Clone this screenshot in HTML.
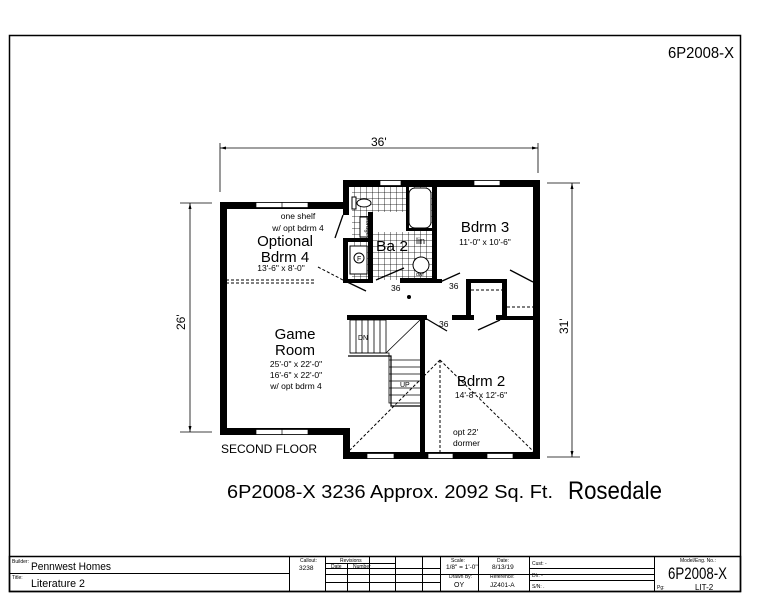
<!DOCTYPE html>
<html><head><meta charset="utf-8"><style>
html,body{margin:0;padding:0;background:#fff;width:777px;height:600px;overflow:hidden}
svg{display:block}
text{font-family:"Liberation Sans",sans-serif;fill:#000}
</style></head><body>
<svg width="777" height="600" viewBox="0 0 777 600" xmlns="http://www.w3.org/2000/svg">
<defs>
<pattern id="tile" width="6" height="6" patternUnits="userSpaceOnUse">
<path d="M0 0H6M0 0V6" stroke="#000" stroke-width="0.8" fill="none"/>
</pattern>
</defs>
<rect x="9.5" y="35.5" width="731" height="556" fill="none" stroke="#000" stroke-width="1.5"/>
<text x="668" y="58" font-size="16" textLength="66" lengthAdjust="spacingAndGlyphs">6P2008-X</text>

<g stroke="#000" stroke-width="0.8" fill="none">
<line x1="220" y1="148" x2="538" y2="148"/>
<line x1="220" y1="143" x2="220" y2="192"/>
<line x1="538" y1="143" x2="538" y2="173"/>
<line x1="190" y1="203" x2="190" y2="432"/>
<line x1="180" y1="203" x2="212" y2="203"/>
<line x1="180" y1="432" x2="212" y2="432"/>
<line x1="572" y1="183" x2="572" y2="457"/>
<line x1="547" y1="183" x2="580" y2="183"/>
<line x1="547" y1="457" x2="580" y2="457"/>
</g>
<path d="M220 148 l6 -1.5 v3z M538 148 l-6 -1.5 v3z M190 203 l-1.5 6 h3z M190 432 l-1.5 -6 h3z M572 183 l-1.5 6 h3z M572 457 l-1.5 -6 h3z" fill="#000"/>
<text x="371" y="146" font-size="12">36'</text>
<text x="0" y="0" font-size="12" transform="translate(185,330) rotate(-90)">26'</text>
<text x="0" y="0" font-size="12" transform="translate(568,334) rotate(-90)">31'</text>

<rect x="352" y="186" width="81" height="94" fill="url(#tile)"/>
<rect x="373" y="212" width="40" height="20" fill="#fff"/>
<g fill="#000">
<rect x="220" y="202" width="127" height="7"/>
<rect x="343" y="180" width="197" height="7"/>
<rect x="220" y="202" width="7" height="232"/>
<rect x="533" y="180" width="7" height="279"/>
<rect x="220" y="428" width="130" height="7"/>
<rect x="343" y="428" width="7" height="31"/>
<rect x="343" y="452" width="197" height="7"/>
<rect x="343" y="180" width="6" height="35"/>
<rect x="343" y="238" width="5" height="45"/>
<rect x="343" y="238" width="30" height="4"/>
<rect x="368" y="212" width="5" height="70"/>
<rect x="343" y="279" width="30" height="4"/>
<rect x="400" y="278" width="37" height="5"/>
<rect x="432" y="180" width="5" height="103"/>
<rect x="406" y="228" width="27" height="3"/>
<rect x="406" y="186" width="3" height="45"/>
<rect x="437" y="279" width="5" height="4"/>
<rect x="466" y="279" width="5" height="40"/>
<rect x="466" y="279" width="40" height="4"/>
<rect x="502" y="279" width="5" height="40"/>
<rect x="502" y="316" width="36" height="4"/>
<rect x="452" y="315" width="22" height="5"/>
<rect x="496" y="315" width="10" height="5"/>
<rect x="347" y="315" width="80" height="5"/>
<rect x="420" y="315" width="5" height="142"/>
</g>
<g fill="#fff" stroke="#000" stroke-width="0.7">
<rect x="256" y="202.5" width="52" height="5"/>
<rect x="256" y="429.5" width="52" height="5"/>
<rect x="380" y="180.5" width="21" height="5"/>
<rect x="474" y="180.5" width="26" height="5"/>
<rect x="367" y="453.5" width="27" height="5"/>
<rect x="428" y="453.5" width="25" height="5"/>
<rect x="487" y="453.5" width="26" height="5"/>
</g>
<g stroke="#000" stroke-width="0.7"><line x1="282" y1="202" x2="282" y2="208"/><line x1="282" y1="429" x2="282" y2="435"/></g>
<g fill="#fff" stroke="#000" stroke-width="1">
<rect x="409" y="188" width="22" height="40" rx="6"/>
<rect x="352" y="197" width="4" height="12"/>
<ellipse cx="364" cy="203" rx="7" ry="4"/>
<circle cx="421" cy="265" r="8"/>
<rect x="350" y="246" width="17" height="28"/>
<circle cx="359" cy="258" r="5"/>
<rect x="360" y="217" width="8" height="20"/>
</g>
<text x="357" y="261" font-size="7">F</text>
<text x="0" y="0" font-size="6" transform="translate(366,216) rotate(90)">storage</text>
<text x="376" y="251" font-size="15" textLength="32" lengthAdjust="spacingAndGlyphs">Ba 2</text>
<text x="416" y="244" font-size="9">lin</text>
<text x="416" y="276" font-size="5">dwr</text>
<g stroke="#000" stroke-width="1.3">
<line x1="343" y1="215" x2="335" y2="238"/>
<line x1="343" y1="280" x2="366" y2="291"/>
<line x1="376" y1="280" x2="404" y2="268"/>
<line x1="440" y1="282" x2="460" y2="273"/>
<line x1="510" y1="270" x2="533" y2="282"/>
<line x1="425" y1="318" x2="447" y2="331"/>
<line x1="478" y1="330" x2="500" y2="320"/>
</g>
<g stroke="#000" stroke-width="1" stroke-dasharray="3,2" fill="none">
<line x1="318" y1="267" x2="343" y2="280"/>
<line x1="226" y1="280" x2="316" y2="280"/>
<line x1="226" y1="283" x2="316" y2="283"/>
<line x1="471" y1="290" x2="502" y2="290"/>
<line x1="507" y1="307" x2="534" y2="307"/>
<line x1="440" y1="360" x2="350" y2="450"/>
<line x1="440" y1="360" x2="534" y2="452"/>
<line x1="440" y1="360" x2="440" y2="453"/>
</g>
<circle cx="409" cy="297" r="2" fill="#000"/>
<g stroke="#000" stroke-width="0.8" fill="none">
<rect x="350" y="320" width="36" height="33"/>
<line x1="356" y1="320" x2="356" y2="353"/><line x1="362" y1="320" x2="362" y2="353"/><line x1="368" y1="320" x2="368" y2="353"/><line x1="374" y1="320" x2="374" y2="353"/><line x1="380" y1="320" x2="380" y2="353"/>
<path d="M350 353 H389 V403 H420"/>
<path d="M348 356 H391 V406 H421" stroke-width="1.2"/>
<line x1="389" y1="360" x2="420" y2="360"/><line x1="389" y1="367" x2="420" y2="367"/><line x1="389" y1="374" x2="420" y2="374"/><line x1="389" y1="381" x2="420" y2="381"/><line x1="389" y1="388" x2="420" y2="388"/><line x1="389" y1="395" x2="420" y2="395"/>
<line x1="386" y1="353" x2="420" y2="320"/>
</g>
<text x="358" y="340" font-size="7">DN</text>
<text x="400" y="387" font-size="7">UP</text>
<g font-size="8.5" text-anchor="middle">
<text x="298" y="219">one shelf</text>
<text x="298" y="231">w/ opt bdrm 4</text>
</g>
<text x="285" y="246" font-size="15" text-anchor="middle">Optional</text>
<text x="285" y="262" font-size="15" text-anchor="middle">Bdrm 4</text>
<text x="281" y="271" font-size="8.5" text-anchor="middle">13'-6" x 8'-0"</text>
<text x="295" y="339" font-size="15" text-anchor="middle">Game</text>
<text x="295" y="355" font-size="15" text-anchor="middle">Room</text>
<g font-size="8.5" text-anchor="middle">
<text x="296" y="367">25'-0" x 22'-0"</text>
<text x="296" y="378">16'-6" x 22'-0"</text>
<text x="296" y="389">w/ opt bdrm 4</text>
</g>
<text x="485" y="232" font-size="15" text-anchor="middle">Bdrm 3</text>
<text x="485" y="245" font-size="8.5" text-anchor="middle">11'-0" x 10'-6"</text>
<text x="481" y="386" font-size="15" text-anchor="middle">Bdrm 2</text>
<text x="481" y="398" font-size="8.5" text-anchor="middle">14'-8" x 12'-6"</text>
<text x="453" y="435" font-size="8.5">opt 22'</text>
<text x="453" y="446" font-size="8.5">dormer</text>
<g font-size="8.5"><text x="391" y="291">36</text><text x="449" y="289">36</text><text x="439" y="327">36</text></g>
<text x="221" y="453" font-size="12">SECOND FLOOR</text>
<text x="227" y="498" font-size="18" textLength="326" lengthAdjust="spacingAndGlyphs">6P2008-X 3236  Approx. 2092 Sq. Ft.</text>
<text x="568" y="499" font-size="25" textLength="94" lengthAdjust="spacingAndGlyphs">Rosedale</text>

<g stroke="#000" fill="none" stroke-width="1">
<rect x="9.5" y="556.5" width="731" height="35" stroke-width="1.5"/>
<line x1="9" y1="573.5" x2="289" y2="573.5"/>
<line x1="289.5" y1="557" x2="289.5" y2="591"/>
<line x1="325.5" y1="557" x2="325.5" y2="591"/>
<line x1="325" y1="563.5" x2="395" y2="563.5"/>
<line x1="325" y1="568.5" x2="440" y2="568.5"/>
<line x1="325" y1="574.5" x2="440" y2="574.5"/>
<line x1="325" y1="582.5" x2="440" y2="582.5"/>
<line x1="347.5" y1="563" x2="347.5" y2="591"/>
<line x1="369.5" y1="557" x2="369.5" y2="591"/>
<line x1="395.5" y1="557" x2="395.5" y2="591"/>
<line x1="422.5" y1="557" x2="422.5" y2="591"/>
<line x1="440.5" y1="557" x2="440.5" y2="591"/>
<line x1="440" y1="574.5" x2="654" y2="574.5"/>
<line x1="478.5" y1="557" x2="478.5" y2="591"/>
<line x1="529.5" y1="557" x2="529.5" y2="591"/>
<line x1="529" y1="568.5" x2="654" y2="568.5"/>
<line x1="529" y1="580.5" x2="654" y2="580.5"/>
<line x1="654.5" y1="557" x2="654.5" y2="591"/>
</g>
<g font-size="5">
<text x="12" y="563">Builder:</text><text x="12" y="579">Title:</text>
<text x="300" y="562">Callout:</text><text x="340" y="562">Revisions</text>
<text x="331" y="568">Date</text><text x="353" y="568">Number</text>
<text x="451" y="562">Scale:</text><text x="497" y="562">Date:</text>
<text x="449" y="578">Drawn By:</text><text x="490" y="578">Reference:</text>
<text x="532" y="565">Cust: -</text><text x="532" y="577">Dlr:  -</text><text x="532" y="588">S/N:  .</text>
<text x="680" y="562">Model/Eng. No.:</text><text x="657" y="589">Pg:</text>
</g>
<text x="31" y="570" font-size="11" textLength="80" lengthAdjust="spacingAndGlyphs">Pennwest Homes</text>
<text x="31" y="587" font-size="11" textLength="54" lengthAdjust="spacingAndGlyphs">Literature 2</text>
<text x="299" y="570" font-size="6.5">3238</text>
<text x="446" y="569" font-size="6.5">1/8" = 1'-0"</text>
<text x="492" y="569" font-size="6.5">8/13/19</text>
<text x="454" y="587" font-size="7">OY</text>
<text x="490" y="587" font-size="6.5">JZ401-A</text>
<text x="668" y="579" font-size="17" textLength="59" lengthAdjust="spacingAndGlyphs">6P2008-X</text>
<text x="695" y="590" font-size="8">LIT-2</text>
</svg>
</body></html>
